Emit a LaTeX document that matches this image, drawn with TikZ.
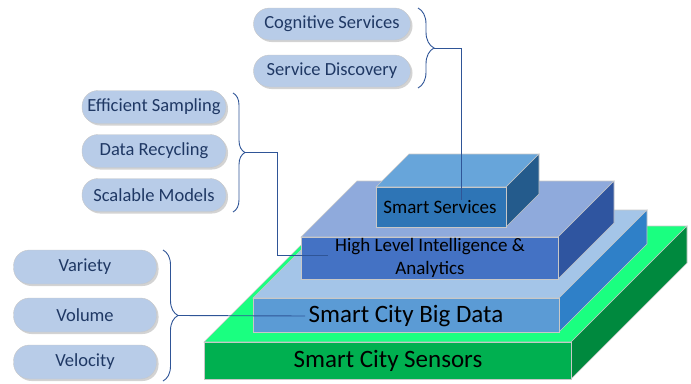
\documentclass[tikz,border=0pt]{standalone}
\usepackage{fontspec}
\setmainfont{Carlito}
\usetikzlibrary{shadows,decorations.pathreplacing}

\definecolor{sensfront}{HTML}{00B050}
\definecolor{senstop}{HTML}{1AFF80}
\definecolor{sensside}{HTML}{00893E}
\definecolor{datafront}{HTML}{5B9BD5}
\definecolor{datatop}{HTML}{A4C5E8}
\definecolor{dataside}{HTML}{2F80C8}
\definecolor{hlfront}{HTML}{4472C4}
\definecolor{hltop}{HTML}{8FAADC}
\definecolor{hlside}{HTML}{2F55A0}
\definecolor{svcfront}{HTML}{2E75B6}
\definecolor{svctop}{HTML}{67A5DA}
\definecolor{svcside}{HTML}{245B8C}
\definecolor{pillfill}{HTML}{B8CCE8}
\definecolor{pilltext}{HTML}{1F3864}
\definecolor{linkcol}{HTML}{2F5597}
\definecolor{edgecol}{HTML}{C8C8C8}

\tikzset{
  pill/.style={draw=edgecol, fill=pillfill, rounded corners=16pt, text=pilltext,
    font=\fontsize{18.5}{22}\selectfont, inner sep=0pt,
    drop shadow={shadow xshift=2pt, shadow yshift=-2pt, opacity=.35}},
  face/.style={draw=edgecol, line width=0.6pt},
  link/.style={draw=linkcol, line width=0.9pt},
  bracket/.style={draw=linkcol, line width=0.9pt, decorate}
}

\begin{document}
\begin{tikzpicture}[x=1pt, y=-1pt]
\useasboundingbox (0,0) rectangle (691,383);

% sensors layer
\fill[senstop, face] (204,342) -- (320,226) -- (687,226) -- (571,342) -- cycle;
\fill[sensside, face] (571,342) -- (687,226) -- (687,263) -- (571,379) -- cycle;
\fill[sensfront, face] (204,342) rectangle (571,379);
\node (sensors) at (388,361) {\fontsize{25}{28}\selectfont Smart City Sensors};

% big data layer
\fill[datatop, face] (253,298) -- (341,210) -- (647,210) -- (559,298) -- cycle;
\fill[dataside, face] (559,298) -- (647,210) -- (647,244) -- (559,332) -- cycle;
\fill[datafront, face] (253,298) rectangle (559,332);
\node (data) at (406,316) {\fontsize{25}{28}\selectfont Smart City Big Data};

% intelligence layer
\fill[hltop, face] (301,237) -- (357,181) -- (614,181) -- (558,237) -- cycle;
\fill[hlside, face] (558,237) -- (614,181) -- (614,223) -- (558,279) -- cycle;
\fill[hlfront, face] (301,237) rectangle (558,279);
\node (hl) at (430,258) [align=center, inner sep=0pt, font=\fontsize{19}{23}\selectfont]
  {High Level Intelligence \&\\Analytics};

% services layer
\fill[svctop, face] (376,187) -- (409,154) -- (539,154) -- (506,187) -- cycle;
\fill[svcside, face] (506,187) -- (539,154) -- (539,194) -- (506,227) -- cycle;
\fill[svcfront, face] (376,187) rectangle (506,227);
\node (svc) at (440,207) [font=\fontsize{19}{22}\selectfont] {Smart Services};

% pills
\node (cog) at (332,24) [pill, minimum width=157pt, minimum height=32pt] {Cognitive Services};
\node (disc) at (332,71) [pill, minimum width=157pt, minimum height=32pt] {Service Discovery};

\node (samp) at (154,107) [pill, minimum width=144pt, minimum height=33pt] {Efficient Sampling};
\node (recyc) at (154,151) [pill, minimum width=144pt, minimum height=33pt] {Data Recycling};
\node (scal) at (154,195) [pill, minimum width=144pt, minimum height=33pt] {Scalable Models};

\node (var) at (85,267) [pill, minimum width=143pt, minimum height=34pt] {Variety};
\node (vol) at (85,315) [pill, minimum width=143pt, minimum height=34pt] {Volume};
\node (vel) at (85,362) [pill, minimum width=143pt, minimum height=34pt] {Velocity};

% braces
\draw[bracket, decoration={brace, amplitude=16pt}] (418,8) -- (418,88);
\draw[bracket, decoration={brace, amplitude=12pt}] (233,93) -- (233,212);
\draw[bracket, decoration={brace, amplitude=15pt}] (163,250) -- (163,381);
\coordinate (topbrace) at (434,48);
\coordinate (midbrace) at (245,152.5);
\coordinate (lowbrace) at (178,315.5);
\coordinate (svcin) at (461,200);
\coordinate (hlin) at (328,255);

% links
\draw[link] (topbrace) -| (svcin);
\draw[link] (midbrace) -- ++(32,0) |- (hlin);
\draw[link] (lowbrace) -- (data.west);

\end{tikzpicture}
\end{document}
